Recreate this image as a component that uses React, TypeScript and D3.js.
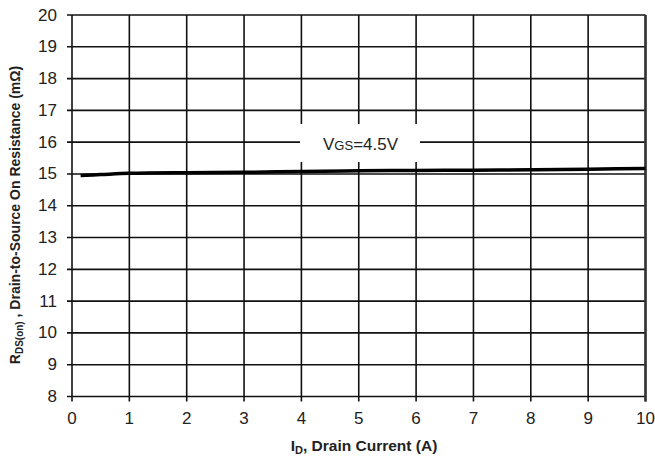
import React from 'react';
import * as d3 from 'd3';

const xTicks = [0, 1, 2, 3, 4, 5, 6, 7, 8, 9, 10];
const yTicks = [8, 9, 10, 11, 12, 13, 14, 15, 16, 17, 18, 19, 20];

// I_D (A) vs R_DS(on) (mOhm) at VGS = 4.5V
const drainCurrent = [0.15, 0.5, 1, 2, 3, 4, 5, 6, 7, 8, 9, 10];
const resistance = [14.95, 14.98, 15.02, 15.04, 15.05, 15.08, 15.1, 15.11, 15.12, 15.13, 15.15, 15.17];

const W = 655;
const H = 461;
const left = 72;
const right = 645.5;
const top = 15;
const bottom = 396.5;
const font = '"Liberation Sans", Arial, sans-serif';

const App = () => {
  const x = d3.scaleLinear().domain([0, 10]).range([left, right]);
  const y = d3.scaleLinear().domain([8, 20]).range([bottom, top]);

  const line = d3
    .line<number>()
    .x((d, i) => x(drainCurrent[i]))
    .y((d) => y(d))
    .curve(d3.curveMonotoneX);

  // white box behind the VGS label
  const boxX0 = 300;
  const boxX1 = 420;
  const boxY0 = 124;
  const boxY1 = 162;

  return (
    <svg
      width={W}
      height={H}
      style={{ position: 'absolute', left: 0, top: 0, background: '#fff' }}
    >
      {/* grid */}
      <g stroke="#111" strokeWidth={1.6}>
        {yTicks.map((t) => (
          <line key={'y' + t} x1={left - 5} x2={right} y1={y(t)} y2={y(t)} />
        ))}
        {xTicks.map((t) => (
          <line key={'x' + t} x1={x(t)} x2={x(t)} y1={top} y2={bottom + 5} />
        ))}
      </g>
      <line x1={right} x2={right} y1={top} y2={bottom + 5} stroke="#333" strokeWidth={2.5} />

      {/* curve */}
      <path d={line(resistance) || ''} fill="none" stroke="#000" strokeWidth={3.5} />

      {/* label */}
      <rect x={boxX0} y={boxY0} width={boxX1 - boxX0} height={boxY1 - boxY0} fill="#fff" />
      <text x={323} y={150} fontFamily={font} fontSize={17} fill="#222">
        V<tspan fontSize={13}>GS</tspan>=4.5V
      </text>

      {/* tick labels */}
      <g fontFamily={font} fontSize={17} fill="#222">
        {yTicks.map((t) => (
          <text key={'yl' + t} x={57} y={y(t)} textAnchor="end" dominantBaseline="central">
            {t}
          </text>
        ))}
        {xTicks.map((t) => (
          <text key={'xl' + t} x={x(t)} y={418} textAnchor="middle" dominantBaseline="central">
            {t}
          </text>
        ))}
      </g>

      {/* axis titles */}
      <text
        x={364}
        y={451}
        textAnchor="middle"
        fontFamily={font}
        fontSize={15.5}
        fontWeight="bold"
        fill="#222"
      >
        I<tspan fontSize={11} dy={3}>D</tspan>
        <tspan dy={-3}>, Drain Current (A)</tspan>
      </text>
      <text
        transform="translate(20,215) rotate(-90)"
        textAnchor="middle"
        fontFamily={font}
        fontSize={14}
        fontWeight="bold"
        fill="#222"
      >
        R<tspan fontSize={10} dy={3}>DS(on)</tspan>
        <tspan dy={-3}> , Drain-to-Source On Resistance (mΩ)</tspan>
      </text>
    </svg>
  );
};

export default App;
